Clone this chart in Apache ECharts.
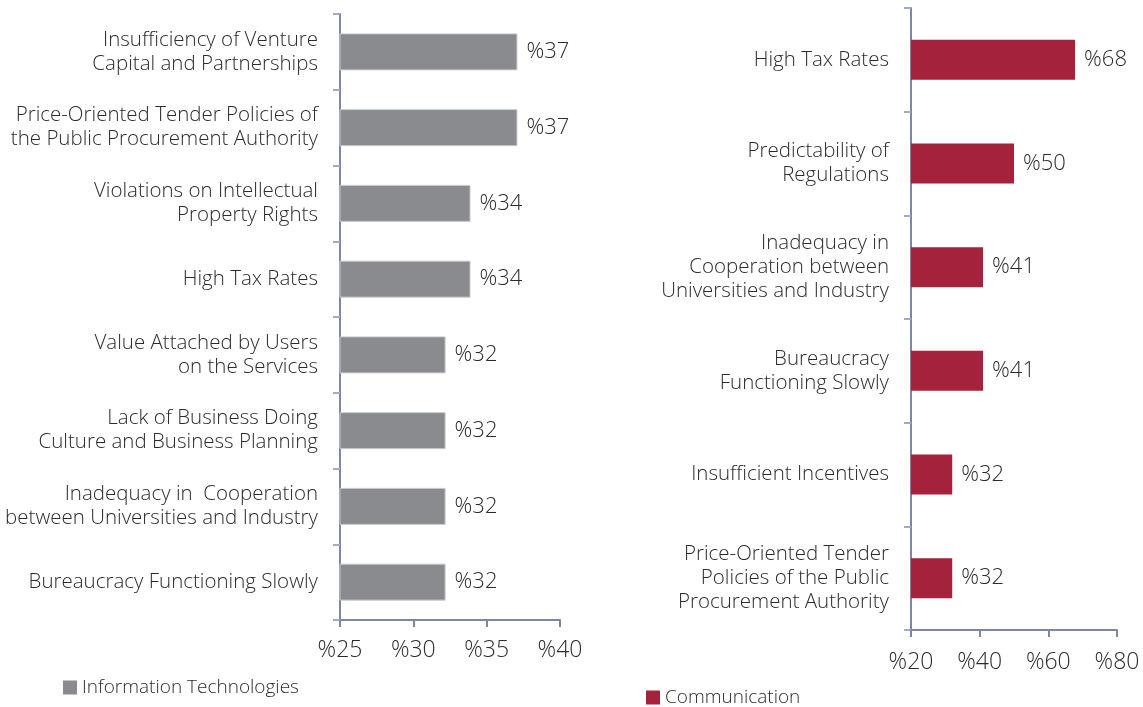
<!DOCTYPE html>
<html>
<head>
<meta charset="utf-8">
<script src="https://cdn.jsdelivr.net/npm/echarts@6/dist/echarts.min.js"></script>
<style>
html, body { margin: 0; padding: 0; background: #fff; }
#main { width: 1143px; height: 707px; }
</style>
</head>
<body>
<div id="main"></div>
<script>
// left panel: Information Technologies
const itCategories = [
	'Insufficiency of Venture\nCapital and Partnerships',
	'Price-Oriented Tender Policies of\nthe Public Procurement Authority',
	'Violations on Intellectual\nProperty Rights',
	'High Tax Rates',
	'Value Attached by Users\non the Services',
	'Lack of Business Doing\nCulture and Business Planning',
	'Inadequacy in  Cooperation\nbetween Universities and Industry',
	'Bureaucracy Functioning Slowly'
];
const itValues = [37.1, 37.1, 33.9, 33.9, 32.2, 32.2, 32.2, 32.2];

// right panel: Communication
const comCategories = [
	'High Tax Rates',
	'Predictability of\nRegulations',
	'Inadequacy in\nCooperation between\nUniversities and Industry',
	'Bureaucracy\nFunctioning Slowly',
	'Insufficient Incentives',
	'Price-Oriented Tender\nPolicies of the Public\nProcurement Authority'
];
const comValues = [67.8, 50, 41, 41, 32, 32];

const font = '"Open Sans", "Noto Sans", sans-serif';
const textColor = '#2b2b2b';
const axisColor = '#7e85a8';

const myChart = echarts.init(document.getElementById('main'));

function catAxis(idx, data) {
	return {
		type: 'category',
		gridIndex: idx,
		data: data,
		inverse: true,
		axisLine: { lineStyle: { color: axisColor, width: 2 } },
		axisTick: { show: true, length: 7, lineStyle: { color: '#a4a9c4', width: 2 } },
		axisLabel: {
			color: textColor,
			fontFamily: font,
			fontWeight: 300,
			fontSize: 20.5,
			lineHeight: 24,
			margin: 22,
			align: 'right'
		}
	};
}

function valAxis(idx, min, max, interval, margin) {
	return {
		type: 'value',
		gridIndex: idx,
		min: min,
		max: max,
		interval: interval,
		splitLine: { show: false },
		axisLine: { show: true, lineStyle: { color: axisColor, width: 2 } },
		axisTick: { show: true, length: 7, lineStyle: { color: axisColor, width: 2 } },
		axisLabel: {
			color: textColor,
			fontFamily: font,
			fontWeight: 300,
			fontSize: 23,
			margin: margin,
			formatter: '%{value}'
		}
	};
}

function barLabel() {
	return {
		show: true,
		position: 'right',
		distance: 9,
		color: textColor,
		fontFamily: font,
		fontWeight: 300,
		fontSize: 22,
		formatter: function (p) {
			return '%' + Math.round(p.value);
		}
	};
}

var option = {
	animation: false,
	grid: [
		{ left: 340, right: 583, top: 14, bottom: 87 },
		{ left: 911, right: 26, top: 8, bottom: 77 }
	],
	legend: [{
		data: ['Information Technologies'],
		left: 58,
		top: 673,
		icon: 'rect',
		itemWidth: 14,
		itemHeight: 14,
		itemGap: 4,
		itemStyle: { borderWidth: 0 },
		textStyle: { color: textColor, fontFamily: font, fontWeight: 300, fontSize: 19 }
	}, {
		data: ['Communication'],
		left: 641,
		top: 683,
		icon: 'rect',
		itemWidth: 14,
		itemHeight: 14,
		itemStyle: { borderWidth: 0 },
		textStyle: { color: textColor, fontFamily: font, fontWeight: 300, fontSize: 19 }
	}],
	xAxis: [
		valAxis(0, 25, 40, 5, 19),
		valAxis(1, 20, 80, 20, 21)
	],
	yAxis: [
		catAxis(0, itCategories),
		catAxis(1, comCategories)
	],
	series: [{
		name: 'Information Technologies',
		type: 'bar',
		xAxisIndex: 0,
		yAxisIndex: 0,
		data: itValues,
		barWidth: 37,
		itemStyle: { color: '#898b8f', borderColor: '#c9cacc', borderWidth: 1 },
		label: barLabel()
	}, {
		name: 'Communication',
		type: 'bar',
		xAxisIndex: 1,
		yAxisIndex: 1,
		data: comValues,
		barWidth: 40,
		itemStyle: { color: '#a5223c' },
		label: barLabel()
	}]
};
myChart.setOption(option);
</script>
</body>
</html>
